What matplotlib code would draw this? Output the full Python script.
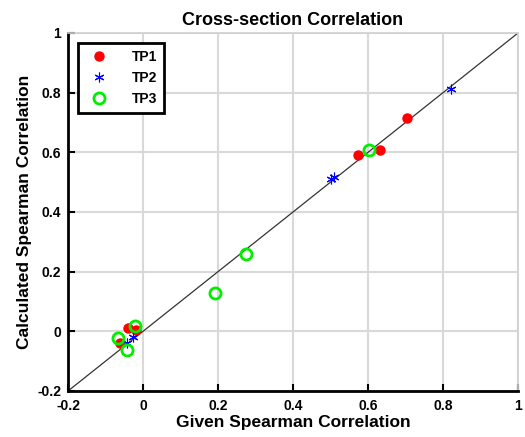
import matplotlib.pyplot as plt
import numpy as np

plt.rcParams['font.family'] = ['Liberation Sans', 'DejaVu Sans']
plt.rcParams['font.weight'] = 'bold'

# values
tp1_x = [0.703, 0.574, 0.632, -0.039, -0.061, -0.019]
tp1_y = [0.714, 0.590, 0.607, 0.011, -0.040, 0.003]
tp2_x = [0.821, 0.500, 0.508, -0.043, -0.026]
tp2_y = [0.813, 0.512, 0.518, -0.040, -0.020]
tp3_x = [0.603, 0.274, 0.192, -0.021, -0.066, -0.043]
tp3_y = [0.607, 0.260, 0.130, 0.017, -0.023, -0.064]
ticks = [-0.2, 0, 0.2, 0.4, 0.6, 0.8, 1]
tick_labels = ['-0.2', '0', '0.2', '0.4', '0.6', '0.8', '1']

fig = plt.figure(figsize=(5.25, 4.37), dpi=100)
ax = fig.add_axes([68/525, 1-391/437, 450/525, 358/437])

ax.plot([-0.2, 1], [-0.2, 1], color='#333333', linewidth=0.9, zorder=2)
ax.plot(tp1_x, tp1_y, 'o', color='red', markersize=6.5, linestyle='none', label='TP1', zorder=3)
ax.plot(tp2_x, tp2_y, marker=(6, 2, 0), color='blue', markersize=7, linestyle='none',
        markeredgewidth=0.8, label='TP2', zorder=4)
ax.plot(tp3_x, tp3_y, 'o', markerfacecolor='none', markeredgecolor='#00ee00', markersize=8,
        markeredgewidth=2, linestyle='none', label='TP3', zorder=5)

ax.set_xlim(-0.2, 1)
ax.set_ylim(-0.2, 1)
ax.set_xticks(ticks)
ax.set_xticklabels(tick_labels)
ax.set_yticks(ticks)
ax.set_yticklabels(tick_labels)
ax.tick_params(direction='in', labelsize=10, length=5, width=1.5)
ax.tick_params(axis='x', pad=6)
ax.tick_params(axis='y', pad=5)
ax.grid(True, color='#d9d9d9', linewidth=1.5)
ax.set_axisbelow(True)

for s in ['left', 'bottom']:
    ax.spines[s].set_linewidth(2)
for s in ['top', 'right']:
    ax.spines[s].set_color('#d0d0d0')
    ax.spines[s].set_linewidth(1.2)

ax.set_title('Cross-section Correlation', fontsize=13, fontweight='bold', pad=6)
ax.set_xlabel('Given Spearman Correlation', fontsize=12.5, fontweight='bold', labelpad=1)
ax.set_ylabel('Calculated Spearman Correlation', fontsize=12.5, fontweight='bold', labelpad=4)

leg = ax.legend(loc='upper left', fontsize=10, fancybox=False, framealpha=1,
                edgecolor='black', borderaxespad=0.7, handletextpad=1.4, borderpad=0.5)
leg.get_frame().set_linewidth(2)

fig.savefig('out.png', dpi=100)
